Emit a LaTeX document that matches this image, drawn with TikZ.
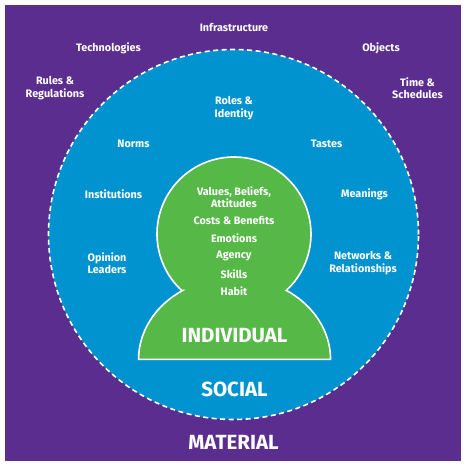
\documentclass[tikz,border=0pt]{standalone}
\usepackage{fontspec}
\setmainfont{Fira Sans}
\usepackage{tikz}
\usetikzlibrary{calc,positioning}
\definecolor{matpurple}{HTML}{5B2D8E}
\definecolor{socblue}{HTML}{0093D0}
\definecolor{indgreen}{HTML}{56B847}
\tikzset{
  lbl/.style={text=white,font=\bfseries\fontsize{10.8}{12.5}\selectfont,
              align=center,inner sep=0pt},
  big/.style={text=white,font=\bfseries\fontsize{20.5}{22}\selectfont,inner sep=0pt},
  ring/.style={draw=white,line width=1.6pt,dash pattern=on 5pt off 3.5pt},
  person/.style={fill=indgreen,draw=white,line width=1.6pt},
}

\begin{document}
\begin{tikzpicture}[x=1pt,y=1pt]
  \useasboundingbox (0,0) rectangle (467,468);
  % layers
  \fill[matpurple] (5,7) rectangle (461,463);
  \fill[socblue] (233.5,233.5) circle[radius=185];
  \draw[ring] (233.5,233.5) circle[radius=185];
  \coordinate (headc) at (234,234);
  \coordinate (bodyc) at (234,109);
  \draw[person] ($(headc)+(227.1:77)$)
    arc[start angle=227.1,end angle=-47.1,radius=77]
    arc[start angle=57.3,end angle=0,x radius=96,y radius=82]
    -- ++(-192,0)
    arc[start angle=180,end angle=122.7,x radius=96,y radius=82] -- cycle;
  % material
  \node[lbl] (infra) at (234,440) {Infrastructure};
  \node[lbl] (tech)  at (108.5,420) {Technologies};
  \node[lbl] (obj)   at (381,420) {Objects};
  \node[lbl] (rules) at (55,380) {Rules \&\\Regulations};
  \node[lbl] (time)  at (417.5,380) {Time \&\\Schedules};
  % social
  \node[lbl] (roles) at (234,360) {Roles \&\\Identity};
  \node[lbl] (norms) at (133.5,324) {Norms};
  \node[lbl] (tastes) at (326.5,324) {Tastes};
  \node[lbl] (inst)  at (113.5,274) {Institutions};
  \node[lbl] (mean)  at (364.5,274) {Meanings};
  \node[lbl] (opin)  at (107,205) {Opinion\\Leaders};
  \node[lbl] (netw)  at (363,205) {Networks \&\\Relationships};
  % individual
  \node[lbl] (vals)  at (234,271) {Values, Beliefs,\\Attitudes};
  \node[lbl] (costs) at (234,248) {Costs \& Benefits};
  \node[lbl] (emo)   at (234,230) {Emotions};
  \node[lbl] (agen)  at (234,212) {Agency};
  \node[lbl] (skill) at (234,194) {Skills};
  \node[lbl] (habit) at (234,177) {Habit};
  \node[big] (indiv) at (234.5,132) {INDIVIDUAL};
  \node[big] (soc)   at (234.5,79) {SOCIAL};
  \node[big] (mat)   at (233.5,26) {MATERIAL};
\end{tikzpicture}
\end{document}
